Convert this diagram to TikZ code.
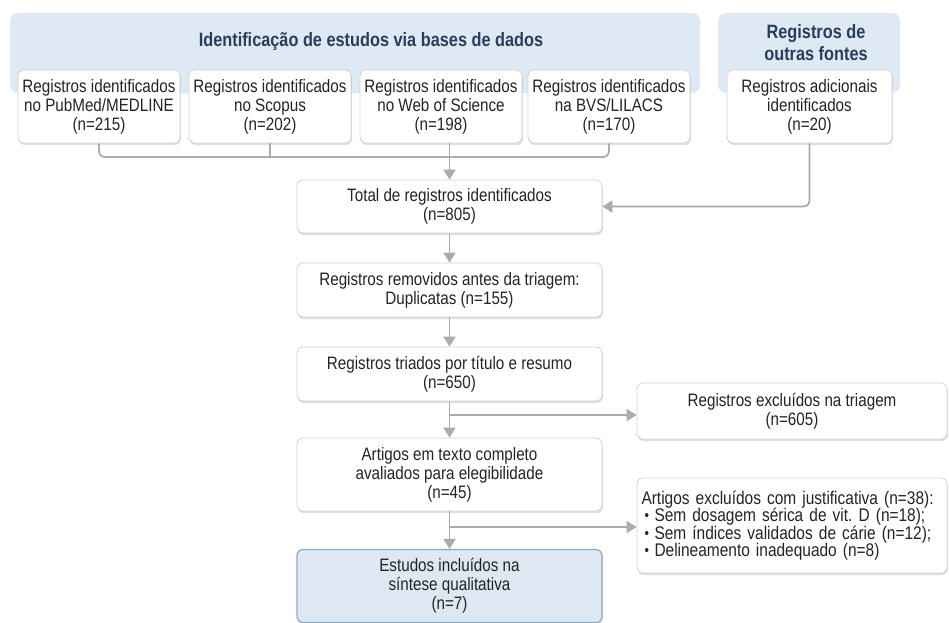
\documentclass[tikz,border=0pt]{standalone}
\usepackage{fontspec}
\setmainfont{Liberation Sans}[FakeStretch=0.845]
\usetikzlibrary{shadows,arrows.meta}
\frenchspacing
\definecolor{panelfill}{HTML}{DFE9F4}
\definecolor{headtext}{HTML}{2A3D5C}
\definecolor{bodytext}{HTML}{242424}
\definecolor{boxline}{HTML}{D2D2D2}
\definecolor{conn}{HTML}{ABABAB}
\definecolor{finalfill}{HTML}{DDE8F3}
\definecolor{finalline}{HTML}{8DAAC4}
\tikzset{
  panel/.style={fill=panelfill, rounded corners=8pt, draw=none},
  headlbl/.style={text=headtext, font=\fontsize{19.3}{22}\selectfont\bfseries, align=center, inner sep=0pt},
  box/.style={draw=boxline, line width=0.8pt, fill=white, rounded corners=6pt, align=center,
    text=bodytext, font=\fontsize{18}{19}\selectfont, inner sep=0pt,
    drop shadow={shadow xshift=0.8pt, shadow yshift=-2pt, opacity=0.13, fill=black}},
  finalbox/.style={box, draw=finalline, line width=1.2pt, fill=finalfill},
  link/.style={draw=conn, line width=1.8pt, rounded corners=6pt},
  arr/.style={link, -{Triangle[width=12pt,length=10pt]}},
}
\newcommand{\bul}{\makebox[13pt][l]{\hspace{3pt}\raisebox{1pt}{\fontsize{15}{15}\selectfont•}}}
\begin{document}
\begin{tikzpicture}[x=1pt,y=-1pt]
\useasboundingbox (0,0) rectangle (949,622);
\fill[white] (0,0) rectangle (949,622);
% panels
\path[panel] (10,13) rectangle (700,93);
\path[panel] (718,13) rectangle (900,93);
\node[headlbl] (h1) at (371,42) {Identificação de estudos via bases de dados};
\node[headlbl] (h2) at (816,43) {Registros de\\outras fontes};
% top boxes
\node[box, minimum width=162pt, minimum height=73pt] (b1) at (99,106.5) {Registros identificados\\no PubMed/MEDLINE\\(n=215)};
\node[box, minimum width=162pt, minimum height=73pt] (b2) at (270,106.5) {Registros identificados\\no Scopus\\(n=202)};
\node[box, minimum width=162pt, minimum height=73pt] (b3) at (441,106.5) {Registros identificados\\no Web of Science\\(n=198)};
\node[box, minimum width=162pt, minimum height=73pt] (b4) at (609,106.5) {Registros identificados\\na BVS/LILACS\\(n=170)};
\node[box, minimum width=165pt, minimum height=73pt] (b5) at (809.5,106.5) {Registros adicionais\\identificados\\(n=20)};
% main column
\node[box, minimum width=305pt, minimum height=53pt] (total) at (449.5,206.5) {Total de registros identificados\\(n=805)};
\node[box, minimum width=305pt, minimum height=54pt] (rem) at (449.5,290) {Registros removidos antes da triagem:\\Duplicatas (n=155)};
\node[box, minimum width=305pt, minimum height=54pt] (tri) at (449.5,374) {Registros triados por título e resumo\\(n=650)};
\node[box, minimum width=305pt, minimum height=73pt] (art) at (449.5,474.5) {Artigos em texto completo\\avaliados para elegibilidade\\(n=45)};
\node[finalbox, minimum width=305pt, minimum height=73pt] (inc) at (449.5,586) {Estudos incluídos na\\síntese qualitativa\\(n=7)};
% exclusion boxes
\node[box, minimum width=310pt, minimum height=56pt] (ex1) at (792,411) {Registros excluídos na triagem\\(n=605)};
\node[box, minimum width=310pt, minimum height=95pt, text width=301pt, align=left, font=\fontsize{18.3}{17.4}\selectfont] (ex2) at (792,525.5) {%
Artigos excluídos com justificativa (n=38):\\
\bul Sem dosagem sérica de vit. D (n=18);\\
\bul Sem índices validados de cárie (n=12);\\
\bul Delineamento inadequado (n=8)};
% connectors top
\draw[link] (b1.south) -- (b1.south |- 0,157) -- (b4.south |- 0,157) -- (b4.south);
\draw[link] (b2.south) -- (b2.south |- 0,157);
\draw[arr] (total.north |- b3.south) -- (total.north);
\draw[arr] (b5.south) |- (total.east);
% main arrows
\draw[arr] (total.south) -- (rem.north);
\draw[arr] (rem.south) -- (tri.north);
\draw[arr] (tri.south) -- (art.north);
\draw[arr] (art.south) -- (inc.north);
\coordinate (br1) at (449.5,415);
\coordinate (br2) at (449.5,527);
\draw[arr] (br1) -- (br1 -| ex1.west);
\draw[arr] (br2) -- (br2 -| ex2.west);
\end{tikzpicture}
\end{document}
